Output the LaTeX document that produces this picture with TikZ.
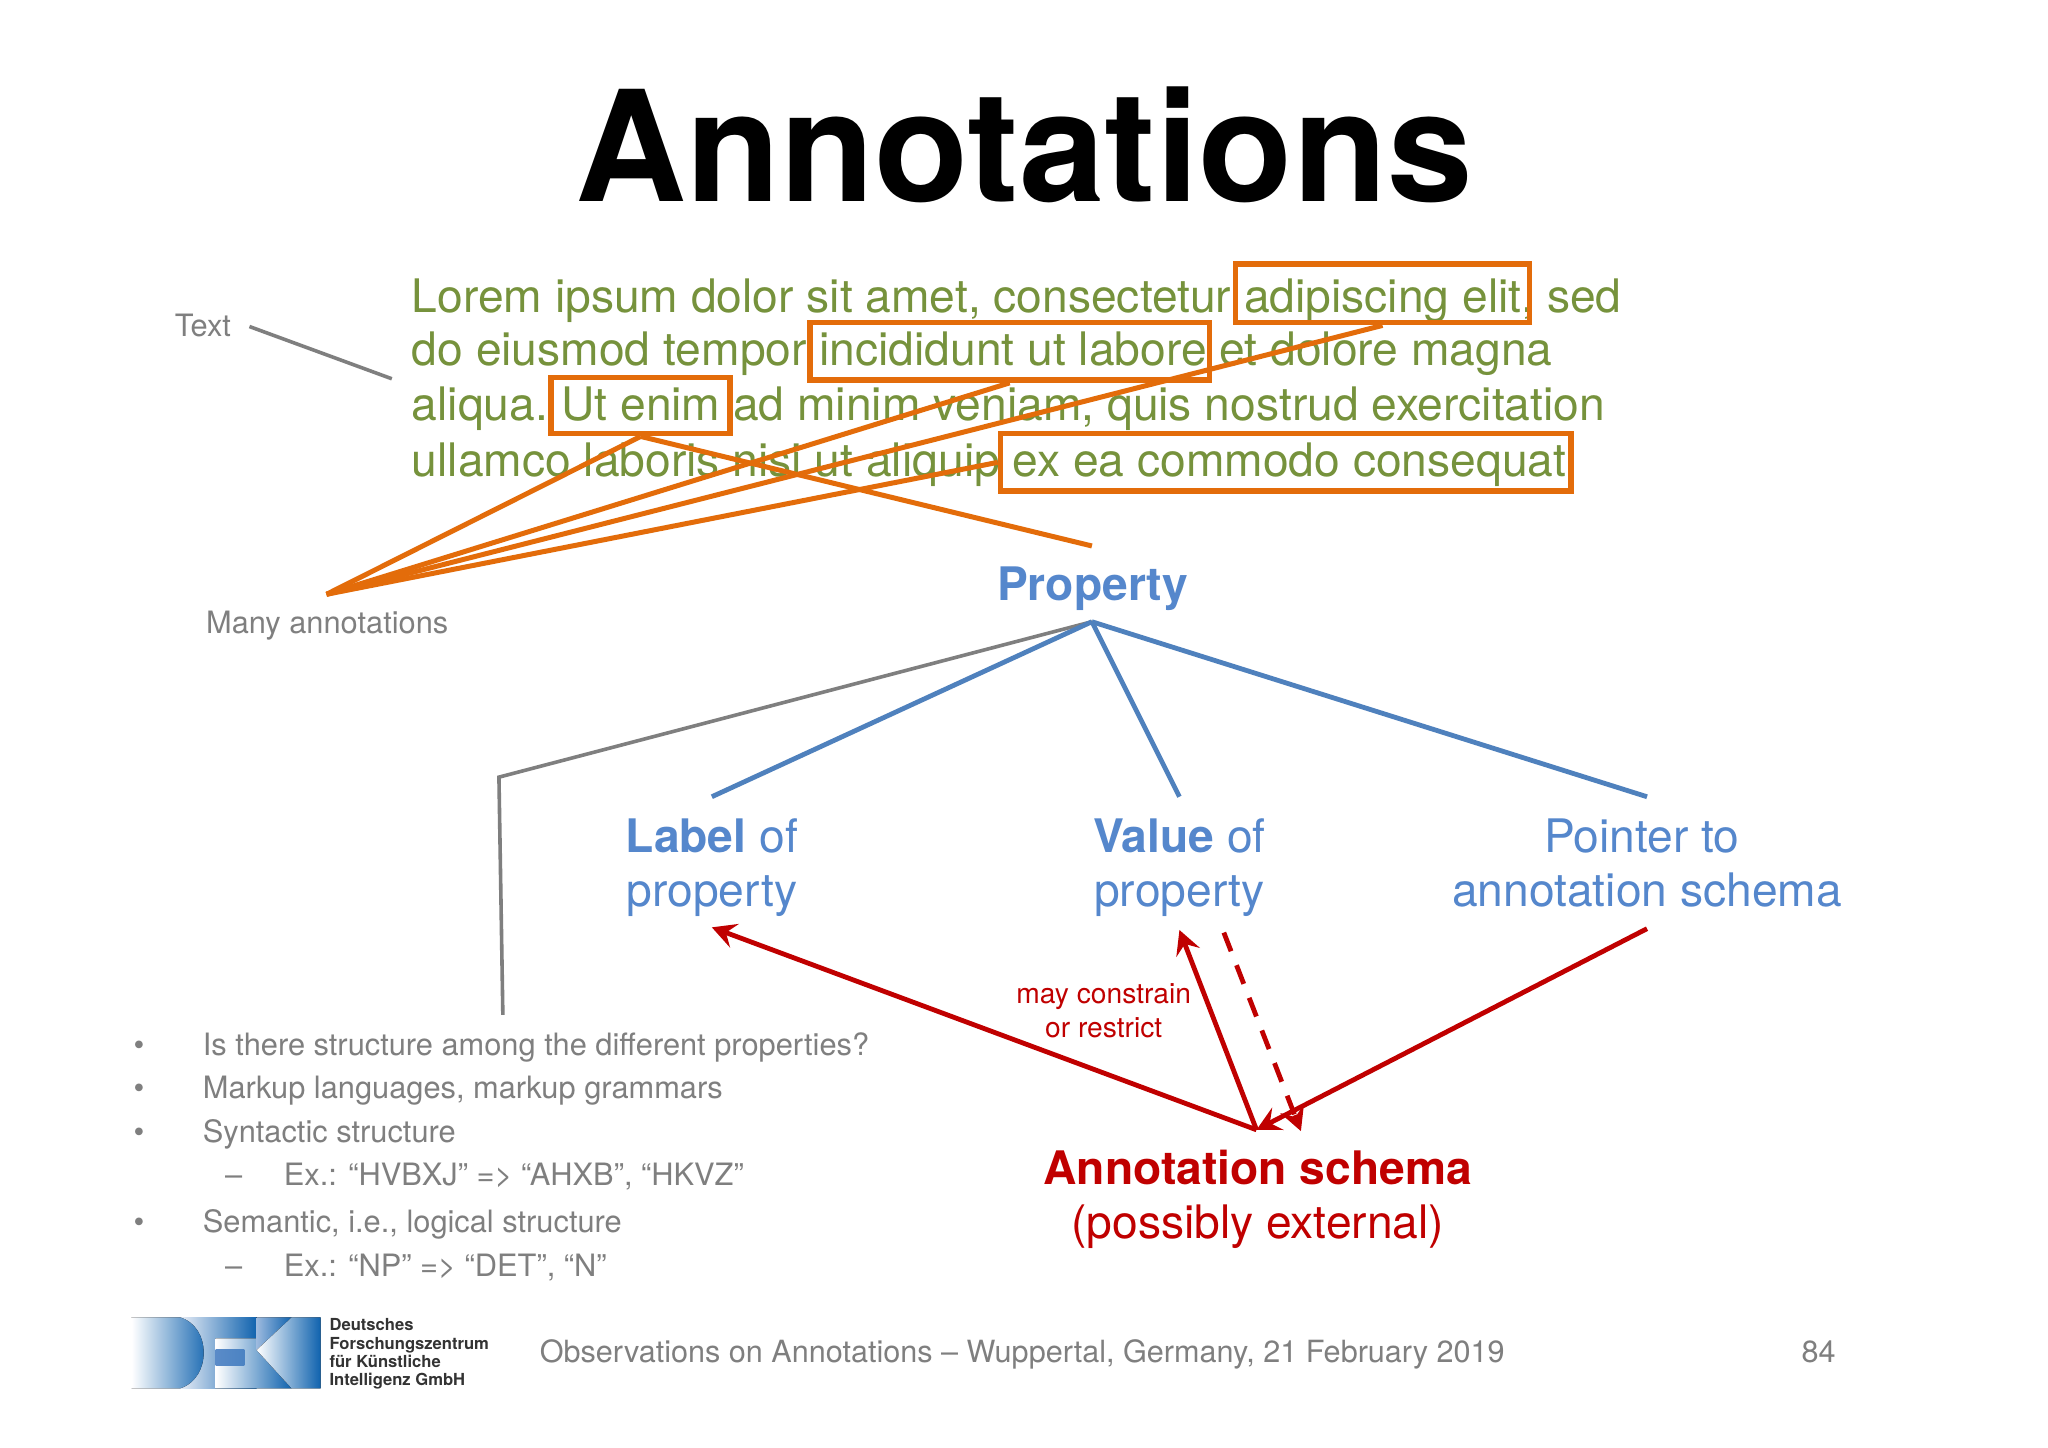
\documentclass[tikz,border=0pt]{standalone}
\usepackage{fontspec}
\setmainfont{TeX Gyre Heros}
\usetikzlibrary{arrows.meta,calc}
\definecolor{txtgreen}{HTML}{76923C}
\definecolor{annorange}{HTML}{E36C0A}
\definecolor{propblue}{HTML}{4F81BD}
\definecolor{propblt}{HTML}{5587CC}
\definecolor{schemared}{HTML}{C00000}
\definecolor{slidegray}{HTML}{7F7F7F}
\definecolor{logoblue}{HTML}{0F62AE}
\definecolor{logomid}{HTML}{5A8BC8}
\definecolor{logolight}{HTML}{E8EDF6}
\definecolor{logodark}{HTML}{333333}
\tikzset{
  x=0.6531pt,y=-0.6531pt,
  lbl/.style={inner sep=0pt,anchor=base west},
  ctr/.style={inner sep=0pt,anchor=base},
  body/.style={lbl,text=txtgreen,font=\fontsize{23.1}{28}\selectfont},
  box/.style={draw=annorange,line width=2.8pt,rectangle,line join=miter,inner sep=0pt},
  oline/.style={draw=annorange,line width=2.5pt},
  bline/.style={draw=propblue,line width=2.4pt},
  gline/.style={draw=slidegray,line width=1.8pt},
  rline/.style={draw=schemared,line width=2.4pt},
  rarrow/.style={rline,-{Stealth[length=12pt,width=12.5pt,inset=4.5pt]}},
  blt/.style={lbl,text=slidegray,font=\fontsize{15.4}{18}\selectfont},
  prop/.style={ctr,text=propblt,font=\fontsize{23.1}{28}\selectfont},
  red/.style={ctr,text=schemared,font=\fontsize{23.1}{28}\selectfont},
}
\begin{document}
\begin{tikzpicture}
\useasboundingbox (0,0) rectangle (1568,1108);
\fill[white] (0,0) rectangle (1568,1108);
\node[ctr,font=\fontsize{77}{90}\bfseries\selectfont] (title) at (784,154) {Annotations};
\node[body] (l1) at (315,239) {Lorem ipsum dolor sit amet, consectetur adipiscing elit, sed};
\node[body] (l2) at (315,279.5) {do eiusmod tempor incididunt ut labore et dolore magna};
\node[body] (l3) at (315,322) {aliqua. \kern-2pt Ut enim ad minim veniam, quis nostrud exercitation};
\node[body] (l4) at (315,365) {ullamco laboris nisi ut aliquip ex ea commodo consequat};
\node[box,minimum width=225*0.6531pt,minimum height=45*0.6531pt] (b1) at (1058.5,224.5) {};
\node[box,minimum width=306*0.6531pt,minimum height=44*0.6531pt] (b2) at (773,269) {};
\node[box,minimum width=137*0.6531pt,minimum height=43*0.6531pt] (b3) at (490.5,310.5) {};
\node[box,minimum width=437*0.6531pt,minimum height=44*0.6531pt] (b4) at (984.5,354) {};
\node[blt] (textlbl) at (133.5,257.5) {Text};
\coordinate (textend) at (300,290);
\coordinate (textstart) at (191,250);
\draw[gline] (textstart) -- (textend);
\node[ctr,text=slidegray,font=\fontsize{15.4}{18}\selectfont] (many) at (250.5,485) {Many annotations};
\coordinate (hub) at (250,455);
\coordinate (prtop) at (836,418);
\draw[oline] (hub) -- (b3.south);
\draw[oline] (hub) -- (b2.south);
\draw[oline] (hub) -- (b1.south);
\draw[oline] (hub) -- (b4.west);
\draw[oline] (b3.south) -- (prtop);
\node[ctr,text=propblt,font=\fontsize{23.1}{28}\bfseries\selectfont] (property) at (836.5,459.5) {Property};
\coordinate (pb) at (836,476);
\coordinate (gk) at (382,595);
\coordinate (ge) at (385,777);
\draw[gline] (pb) -- (gk) -- (ge);
\node[prop] (la) at (545,652.5) {\textbf{Label} of};
\node[prop] (lb) at (545,694) {property};
\node[prop] (va) at (903,652.5) {\textbf{Value} of};
\node[prop] (vb) at (903,694) {property};
\node[prop] (pa) at (1257,652.5) {Pointer to};
\node[prop] (pc) at (1261,694) {annotation schema};
\coordinate (t1) at (545,610);
\coordinate (t2) at (903,610);
\coordinate (t3) at (1261,610);
\draw[bline] (pb) -- (t1);
\draw[bline] (pb) -- (t2);
\draw[bline] (pb) -- (t3);
\coordinate (s) at (962,865);
\coordinate (la1) at (545,710);
\coordinate (va1) at (903,712);
\coordinate (vd) at (937,714);
\coordinate (vd2) at (996,866);
\coordinate (pt1) at (1261,711);
\draw[rarrow] (s) -- (la1);
\draw[rarrow] (s) -- (va1);
\draw[rarrow] (pt1) -- (s);
\draw[rline,dash pattern=on 10pt off 7.5pt] (vd) -- ($(vd)!0.93!(vd2)$);
\draw[rarrow] ($(vd)!0.92!(vd2)$) -- (vd2);
\node[ctr,text=schemared,font=\fontsize{14.1}{17}\selectfont] (c1) at (845,768) {may constrain};
\node[ctr,text=schemared,font=\fontsize{14.1}{17}\selectfont] (c2) at (845,794) {or restrict};
\node[red] (as) at (963,907) {\textbf{Annotation schema}};
\node[red] (pe) at (963,948.5) {(possibly external)};
\node[blt] (i1) at (155,808) {Is there structure among the different properties?};
\node[blt] (i2) at (155,841) {Markup languages, markup grammars};
\node[blt] (i3) at (155,875) {Syntactic structure};
\node[blt] (i4) at (217,908) {Ex.: “HVBXJ” => “AHXB”, “HKVZ”};
\node[blt] (i5) at (155,944) {Semantic, i.e., logical structure};
\node[blt] (i6) at (217,977) {Ex.: “NP” => “DET”, “N”};
\foreach \n/\yy in {a/808,b/841,c/875,d/944}
  \node[blt] (bu\n) at (102,\yy) {•};
\foreach \n/\yy in {a/908,b/977}
  \node[blt] (da\n) at (172,\yy) {–};
\node[lbl,text=slidegray,font=\fontsize{15.3}{18}\selectfont] (foot) at (413,1043.5) {Observations on Annotations – Wuppertal, Germany, 21 February 2019};
\node[lbl,text=slidegray,font=\fontsize{15.3}{18}\selectfont] (pg) at (1379,1043.5) {84};
% logo, in crop pixels
\begin{scope}[shift={(95.7,1003)},x=0.16667pt,y=-0.16667pt]
  \fill[left color=logolight,right color=logoblue] (165,22) rectangle (395,235);
  \fill[left color=white,right color=logoblue] (20,22) -- (165,22) .. controls (260,50) and (260,205) .. (165,235) -- (20,235) -- cycle;
  \fill[left color=white,right color=logoblue] (272,85) -- (395,85) -- (395,120) -- (500,235) -- (272,235) -- cycle;
  \fill[left color=logomid,right color=logomid!80!logoblue] (272,118) rectangle (358,165);
  \fill[left color=logomid!60!white,right color=logoblue] (395,22) -- (500,22) -- (395,120) -- cycle;
  \fill[left color=white,right color=logoblue] (395,120) -- (500,22) -- (587,22) -- (587,235) -- (500,235) -- cycle;
\end{scope}
\foreach \n/\yy/\t in {a/1019/Deutsches,b/1033/Forschungszentrum,c/1047/für Künstliche,d/1061/Intelligenz GmbH}
  \node[lbl,text=logodark,font=\fontsize{8.3}{10}\bfseries\selectfont] (lg\n) at (252,\yy) {\t};
\end{tikzpicture}
\end{document}
